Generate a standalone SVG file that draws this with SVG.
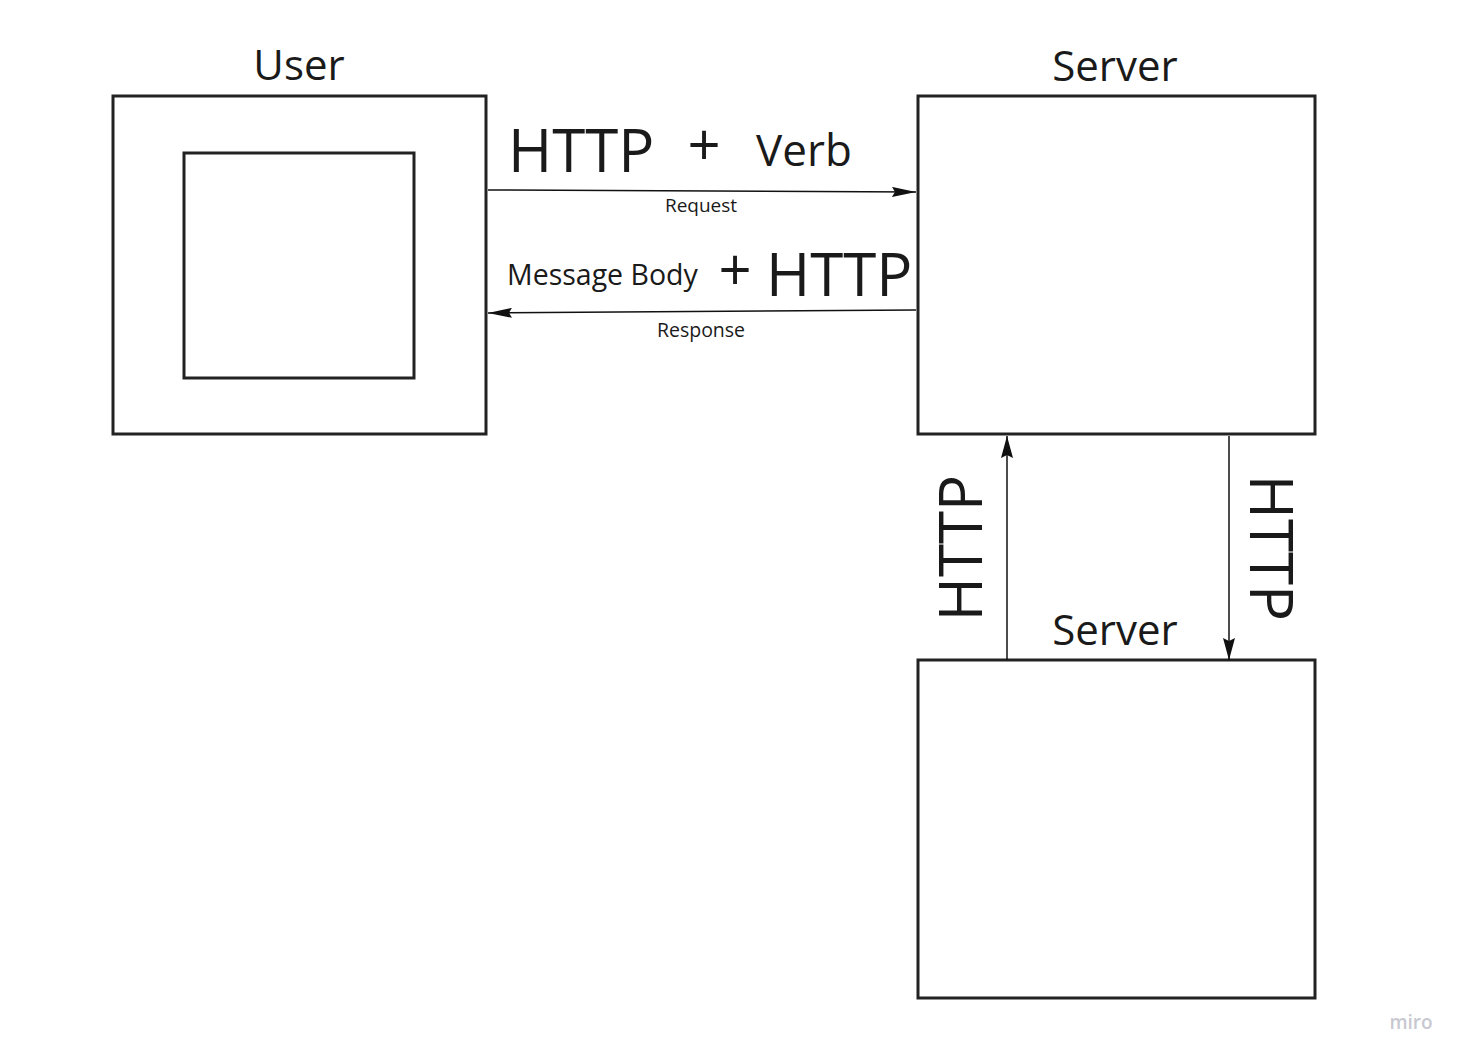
<svg xmlns="http://www.w3.org/2000/svg" width="1468" height="1063" viewBox="0 0 1468 1063">
<defs>
<style>
.box{fill:#fff;stroke:#222;stroke-width:3}
.t{font-family:"Open Sans","Noto Sans","Liberation Sans",sans-serif;fill:#1a1a1a}
.c{fill:none;stroke:#111;stroke-width:1.5}
</style>
<marker id="ah" viewBox="0 0 22 12" refX="22" refY="6" markerWidth="22" markerHeight="12" markerUnits="userSpaceOnUse" orient="auto"><path d="M0,0 L22,6 L0,12 L3,6 Z" fill="#111"/></marker>
<marker id="ahw" viewBox="0 0 24 10" refX="24" refY="5" markerWidth="24" markerHeight="10" markerUnits="userSpaceOnUse" orient="auto"><path d="M0,0 L24,5 L0,10 L3,5 Z" fill="#111"/></marker>
</defs>
<rect width="1468" height="1063" fill="#fff"/>
<g id="user">
<rect class="box" x="113" y="96" width="373" height="338"/>
<rect class="box" x="184" y="153" width="230" height="225"/>
<text class="t" x="299" y="80" font-size="42" text-anchor="middle">User</text>
</g>
<g id="server1">
<rect class="box" x="918" y="96" width="397" height="338"/>
<text class="t" x="1115" y="81" font-size="42" text-anchor="middle">Server</text>
</g>
<g id="server2">
<rect class="box" x="918" y="660" width="397" height="338"/>
<text class="t" x="1115" y="645" font-size="42" text-anchor="middle">Server</text>
</g>
<g id="connectors">
<path class="c" d="M488,190 L916,192" marker-end="url(#ahw)"/>
<path class="c" d="M916,310 L488,313" marker-end="url(#ahw)"/>
<path class="c" d="M1007,660 L1007,436" marker-end="url(#ah)"/>
<path class="c" d="M1229,436 L1229,660" marker-end="url(#ah)"/>
</g>
<g id="labels">
<text class="t" x="508" y="172" font-size="60">HTTP</text>
<text class="t" x="704" y="166" font-size="58" text-anchor="middle">+</text>
<text class="t" x="756" y="166" font-size="44">Verb</text>
<text class="t" x="701" y="212" font-size="19" text-anchor="middle">Request</text>
<text class="t" x="507" y="285" font-size="28.5">Message Body</text>
<text class="t" x="735" y="291" font-size="58" text-anchor="middle">+</text>
<text class="t" x="766" y="296" font-size="60">HTTP</text>
<text class="t" x="701" y="337" font-size="19.5" text-anchor="middle">Response</text>
<text class="t" font-size="60" text-anchor="middle" transform="translate(982,548) rotate(-90)">HTTP</text>
<text class="t" font-size="60" text-anchor="middle" transform="translate(1250,548) rotate(90)">HTTP</text>
<text x="1411" y="1029" font-size="19" text-anchor="middle" font-family="Open Sans,sans-serif" font-weight="600" fill="#c8c8d0">miro</text>
</g>
</svg>
